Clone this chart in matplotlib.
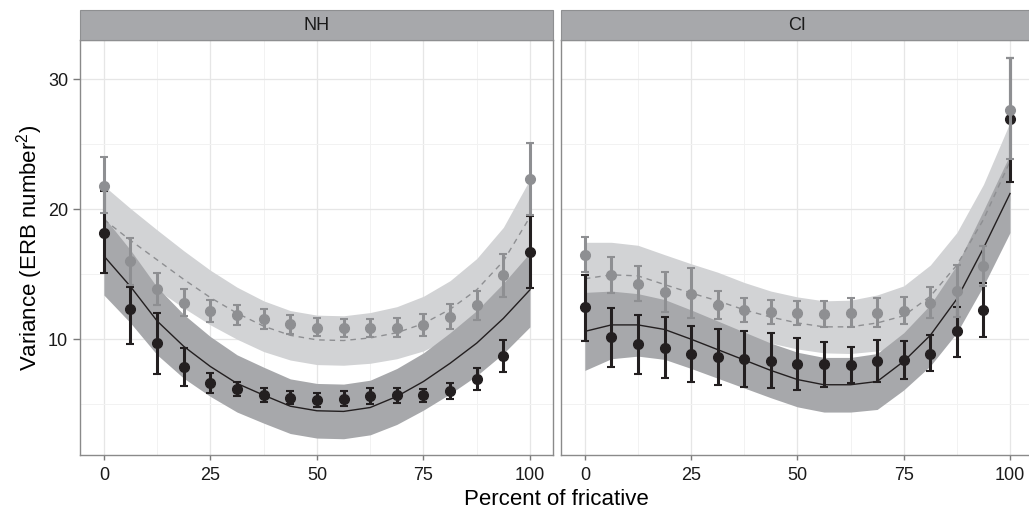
import matplotlib
matplotlib.use("Agg")
import matplotlib.pyplot as plt
from matplotlib.patches import Rectangle
from matplotlib.ticker import MultipleLocator
import numpy as np

# 字体
plt.rcParams["font.family"] = ["Liberation Sans", "DejaVu Sans"]
plt.rcParams["mathtext.default"] = "regular"

# x positions (percent of fricative)
pct = [0, 6.25, 12.5, 18.75, 25, 31.25, 37.5, 43.75, 50,
       56.25, 62.5, 68.75, 75, 81.25, 87.5, 93.75, 100]

# NH - observed means and error bars
nh_gray_mean = [21.8, 16.0, 13.85, 12.77, 12.2, 11.87, 11.54, 11.15, 10.9, 10.85, 10.85, 10.85, 11.08, 11.74, 12.6, 14.9, 22.3]
nh_gray_lo = [19.7, 14.2, 12.6, 11.75, 11.35, 11.1, 10.77, 10.4, 10.26, 10.15, 10.15, 10.15, 10.26, 10.77, 11.44, 13.28, 19.56]
nh_gray_hi = [24.0, 17.8, 15.1, 13.85, 13.0, 12.64, 12.3, 11.85, 11.6, 11.54, 11.54, 11.6, 11.9, 12.7, 13.74, 16.56, 25.1]
nh_black_mean = [18.2, 12.3, 9.7, 7.85, 6.67, 6.15, 5.72, 5.51, 5.33, 5.41, 5.64, 5.69, 5.69, 6.03, 6.95, 8.72, 16.67]
nh_black_lo = [15.1, 9.6, 7.33, 6.44, 5.9, 5.6, 5.2, 5.0, 4.82, 4.87, 5.03, 5.1, 5.15, 5.44, 6.1, 7.5, 13.92]
nh_black_hi = [21.36, 14.05, 12.05, 9.3, 7.4, 6.72, 6.23, 6.05, 5.85, 6.0, 6.26, 6.26, 6.2, 6.62, 7.8, 9.95, 19.44]

# NH - fitted curves and standard errors
nh_gray_fit = [19.2, 17.6, 16.1, 14.6, 13.2, 12.0, 11.0, 10.3, 9.95, 9.9, 10.1, 10.5, 11.2, 12.3, 13.8, 16.0, 19.4]
nh_gray_se = [2.6, 2.45, 2.3, 2.2, 2.1, 2.0, 1.95, 1.9, 1.9, 1.9, 1.95, 2.0, 2.1, 2.2, 2.4, 2.6, 2.9]
nh_black_fit = [16.4, 14.05, 11.4, 9.45, 7.9, 6.6, 5.7, 4.85, 4.5, 4.45, 4.75, 5.6, 6.75, 8.15, 9.7, 11.6, 13.8]
nh_black_se = [3.0, 2.8, 2.6, 2.45, 2.3, 2.2, 2.15, 2.1, 2.1, 2.1, 2.1, 2.15, 2.2, 2.35, 2.5, 2.7, 2.85]

# CI - observed means and error bars
ci_gray_mean = [16.49, 14.9, 14.26, 13.64, 13.5, 12.6, 12.26, 12.08, 12.0, 11.95, 12.05, 12.05, 12.2, 12.82, 13.74, 15.64, 27.64]
ci_gray_lo = [15.13, 13.54, 12.9, 12.13, 11.6, 11.54, 11.33, 11.18, 11.08, 10.97, 10.97, 10.97, 11.18, 11.6, 11.74, 14.1, 23.85]
ci_gray_hi = [17.85, 16.3, 15.64, 15.2, 15.46, 13.74, 13.15, 13.0, 12.97, 12.97, 13.13, 13.13, 13.23, 14.05, 15.7, 17.13, 31.6]
ci_black_mean = [12.46, 10.15, 9.6, 9.36, 8.85, 8.6, 8.49, 8.36, 8.13, 8.1, 8.05, 8.3, 8.4, 8.9, 10.67, 12.26, 26.9]
ci_black_lo = [9.9, 7.9, 7.33, 7.0, 6.69, 6.46, 6.36, 6.26, 6.1, 6.36, 6.67, 6.72, 6.97, 7.54, 8.6, 10.15, 22.1]
ci_black_hi = [14.95, 12.38, 11.87, 11.74, 11.03, 10.82, 10.67, 10.46, 10.1, 9.8, 9.44, 9.95, 9.9, 10.3, 12.5, 14.3, 31.6]

# CI - fitted curves and standard errors
ci_gray_fit = [14.65, 14.95, 14.87, 14.2, 13.55, 12.95, 12.26, 11.7, 11.25, 10.95, 10.95, 11.25, 11.8, 13.3, 15.7, 19.2, 23.67]
ci_gray_se = [2.8, 2.5, 2.35, 2.3, 2.25, 2.2, 2.1, 2.0, 2.0, 2.0, 2.05, 2.15, 2.3, 2.4, 2.5, 2.7, 3.0]
ci_black_fit = [10.6, 11.1, 11.1, 10.75, 10.0, 9.2, 8.4, 7.6, 6.9, 6.5, 6.5, 6.75, 8.3, 10.3, 13.1, 17.0, 21.2]
ci_black_se = [3.0, 2.6, 2.4, 2.3, 2.25, 2.2, 2.15, 2.1, 2.1, 2.1, 2.1, 2.15, 2.2, 2.35, 2.6, 2.9, 3.0]

panels = ["NH", "CI"]

# colours
light_ribbon = "#D2D3D5"
dark_ribbon = "#A7A8AB"
gray_pt = "#8E8F92"
black_pt = "#231F20"
strip_col = "#A7A8AB"
border_col = "#8A8A8A"

W, H = 1029, 509
fig = plt.figure(figsize=(W / 100, H / 100), dpi=100)

ax1 = fig.add_axes([80 / W, 54 / H, 473 / W, 415 / H])
ax2 = fig.add_axes([561 / W, 54 / H, 472 / W, 415 / H])

data = {
    "NH": (nh_gray_mean, nh_gray_lo, nh_gray_hi, nh_black_mean, nh_black_lo, nh_black_hi,
           nh_gray_fit, nh_gray_se, nh_black_fit, nh_black_se),
    "CI": (ci_gray_mean, ci_gray_lo, ci_gray_hi, ci_black_mean, ci_black_lo, ci_black_hi,
           ci_gray_fit, ci_gray_se, ci_black_fit, ci_black_se),
}

x = np.array(pct)
for ax, name in zip([ax1, ax2], panels):
    gm, glo, ghi, bm, blo, bhi, gfit, gse, bfit, bse = [np.array(v) for v in data[name]]

    # 置信带
    ax.fill_between(x, gfit - gse, gfit + gse, color=light_ribbon, lw=0, zorder=2)
    ax.fill_between(x, bfit - bse, bfit + bse, color=dark_ribbon, lw=0, zorder=3)

    # fitted lines
    ax.plot(x, bfit, color=black_pt, lw=1.0, zorder=4)
    ax.plot(x, gfit, color=gray_pt, lw=1.0, ls=(0, (4, 3.5)), zorder=4)

    # 数据点和误差线
    ax.errorbar(x, bm, yerr=[bm - blo, bhi - bm], fmt="o", color=black_pt,
                ms=7, elinewidth=2.2, capsize=3, capthick=1.5, zorder=5)
    ax.errorbar(x, gm, yerr=[gm - glo, ghi - gm], fmt="o", color=gray_pt,
                ms=7, elinewidth=2.2, capsize=3, capthick=1.5, zorder=6)

    ax.set_xlim(-5.6, 105.4)
    ax.set_ylim(1.1, 33.0)
    ax.set_xticks([0, 25, 50, 75, 100])
    ax.xaxis.set_minor_locator(MultipleLocator(12.5))
    ax.set_yticks([10, 20, 30])
    ax.yaxis.set_minor_locator(MultipleLocator(5))
    ax.grid(which="major", color="#E6E6E6", lw=0.9, zorder=0)
    ax.grid(which="minor", color="#F2F2F2", lw=0.7, zorder=0)
    ax.set_axisbelow(True)
    for s in ax.spines.values():
        s.set_color(border_col)
        s.set_linewidth(1.0)
    ax.tick_params(which="major", direction="out", width=1,
                   color="#7A7A7A", labelsize=13, labelcolor="#1A1A1A")
    ax.tick_params(axis="x", which="major", length=3.6, pad=5)
    ax.tick_params(axis="y", which="major", length=5, pad=3.5)
    ax.tick_params(which="minor", length=0)

    # strip
    bb = ax.get_position()
    fig.patches.append(Rectangle((bb.x0, bb.y1), bb.width, 30 / H,
                                 transform=fig.transFigure, facecolor=strip_col,
                                 edgecolor="#8E8F91", lw=0.8, zorder=1))
    fig.text(bb.x0 + bb.width / 2, bb.y1 + 15 / H, name, ha="center",
             va="center", fontsize=13, color="#1A1A1A")

ax2.tick_params(axis="y", which="both", left=False, labelleft=False)

fig.text(0.5 * (80 + 1033) / W, (509 - 505) / H, "Percent of fricative", ha="center",
         va="baseline", fontsize=16)
fig.text(30 / W, 0.5 * (54 + 469) / H, "Variance (ERB number$^2$)", rotation=90,
         ha="center", va="center", fontsize=16)

fig.savefig("out.png", dpi=100)
